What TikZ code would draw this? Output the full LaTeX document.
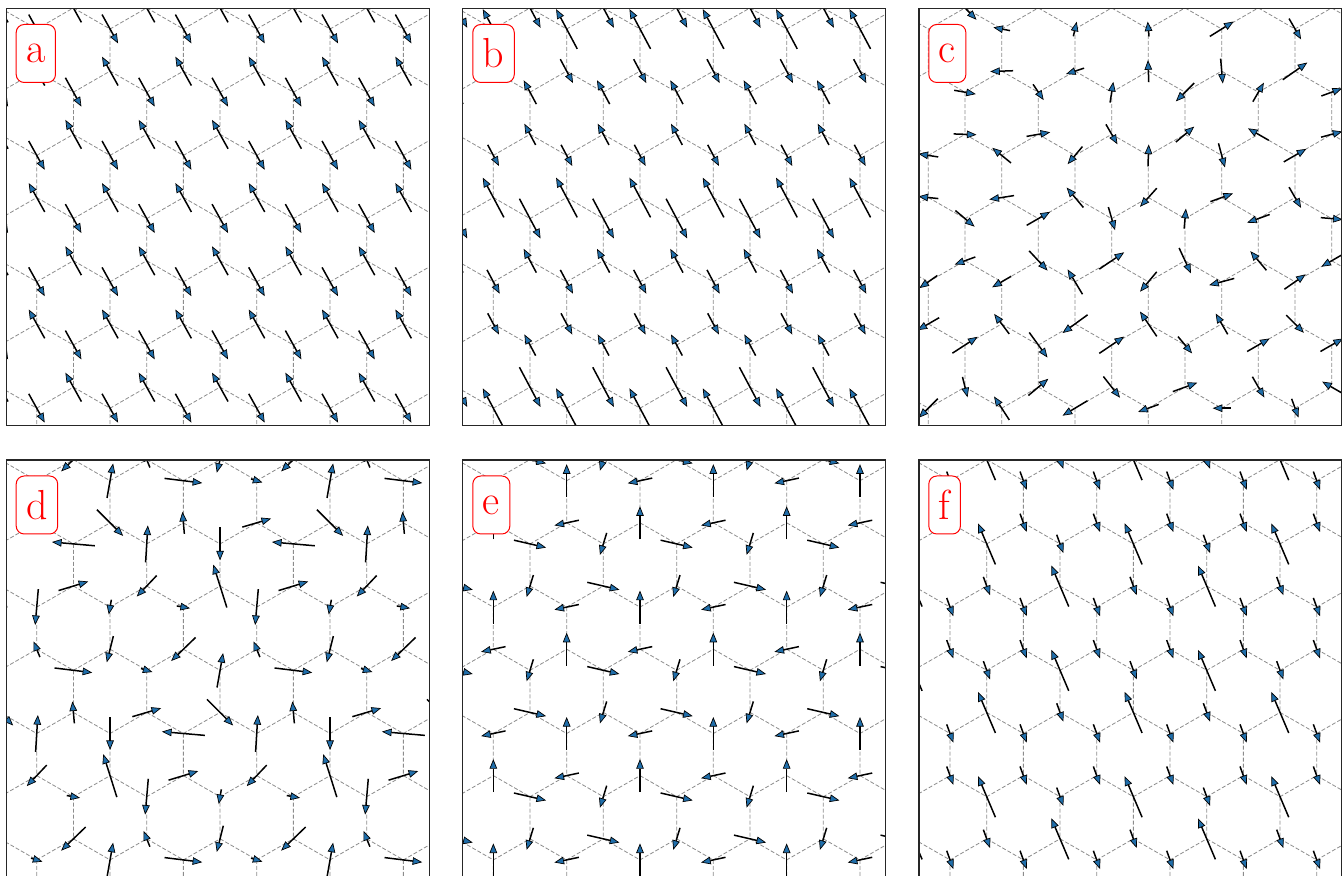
\documentclass[tikz,border=0pt]{standalone}
\usetikzlibrary{arrows.meta}
\definecolor{spinblue}{RGB}{32,110,170}
% x, y, Winkel, Laenge
\newcommand{\spinat}[4]{%
  \pgfmathsetmacro\hx{(#4)/2*cos(#3)}\pgfmathsetmacro\hy{(#4)/2*sin(#3)}%
  \draw[spin] ({#1-(\hx)},{#2+(\hy)}) -- ({#1+(\hx)},{#2-(\hy)});}
\begin{document}
\begin{tikzpicture}[x=0.5pt,y=-0.5pt,
    bond/.style={gray!90,line width=0.4pt,dash pattern=on 2pt off 1pt},
    spin/.style={black,line width=0.75pt,-{Triangle[length=4.8pt,width=3.8pt,fill=spinblue,line width=0.35pt]}},
    frame/.style={draw=black!85,line width=0.6pt},
    tag/.style={draw=red,text=red,fill=white,line width=0.5pt,rounded corners=4pt,
      anchor=north west,minimum height=29pt,inner xsep=5pt,inner ysep=0pt,
      font=\fontsize{21}{25}\selectfont}]
\useasboundingbox (0,0) rectangle (1343,876);

% Wabengitter in allen sechs Feldern
\foreach \fl/\ft/\xa/\ya in {6.7/8.3/-36.6/29,462.7/8.3/420/29,919/8.3/855/29,
    6.7/460/-36.6/480.7,462.7/460/420/480.7,919/460/876.7/480.7}{
  \begin{scope}
    \clip (\fl,\ft) rectangle ++(422.6,417.4);
    \foreach \row in {-1,...,7} \foreach \k in {0,...,7}{
      \pgfmathsetmacro\x{\xa+36.67*mod(\row+2,2)+73.33*\k}
      \pgfmathsetmacro\y{\ya+63.2*\row}
      \draw[bond] (\x-36.67,\y-21.07) -- (\x,\y) -- (\x+36.67,\y-21.07) (\x,\y) -- (\x,\y+42.13);
    }
  \end{scope}
}

% a: Neel
\begin{scope}
  \clip (6.7,8.3) rectangle ++(422.6,417.4);
  \foreach \row in {-1,...,7} \foreach \k in {0,...,7}{
    \pgfmathsetmacro\x{-36.6+36.67*mod(\row+2,2)+73.33*\k}
    \pgfmathsetmacro\y{29+63.2*\row}
    \spinat{\x}{\y}{-61}{33}
    \spinat{\x}{\y+42.13}{119}{33}
  }
\end{scope}

% b: Modulation entlang y
\begin{scope}
  \clip (462.7,8.3) rectangle ++(422.6,417.4);
  \foreach \row in {-1,...,7} \foreach \k in {0,...,7}{
    \pgfmathsetmacro\x{420+36.67*mod(\row+2,2)+73.33*\k}
    \pgfmathsetmacro\y{29+63.2*\row}
    \pgfmathtruncatemacro\ia{mod(\row+6,6)}
    \pgfmathtruncatemacro\ib{mod(\row+7,6)}
    \pgfmathsetmacro\sa{{45,27,-24,-45,-27,24}[\ia]}
    \pgfmathsetmacro\sb{{45,27,-24,-45,-27,24}[\ib]}
    \spinat{\x}{\y}{-62}{-(\sa)}
    \spinat{\x}{\y+42.13}{-62}{\sb}
  }
\end{scope}

% c: ungeordnet
\begin{scope}
  \clip (919,8.3) rectangle ++(422.6,417.4);
  \foreach \col/\row/\s/\ang/\len in {4/0/0/169/17,6/0/0/77/15,8/0/0/95/15,10/0/0/32/28,12/0/0/-60/24,
      4/0/1/182/23,6/0/1/198/19,8/0/1/92/22,10/0/1/-85/25,12/0/1/35/30,
      3/-1/1/-46/33,3/1/0/-10/22,5/1/0/-56/19,7/1/0/81/21,9/1/0/225/26,11/1/0/60/22,13/1/0/20/22,
      3/1/1/-2/23,5/1/1/10/24,7/1/1/-60/23,9/1/1/40/24,11/1/1/150/24,13/1/1/15/22,
      2/2/0/171/20,4/2/0/141/24,6/2/0/230/23,8/2/0/88/22,10/2/0/-75/25,12/2/0/30/26,
      2/2/1/174/20,4/2/1/189/25,6/2/1/130/26,8/2/1/228/25,10/2/1/20/24,12/2/1/-60/24,
      3/3/0/-40/25,5/3/0/30/27,7/3/0/-74/24,9/3/0/85/20,11/3/0/200/24,13/3/0/-5/22,
      3/3/1/200/22,5/3/1/-47/27,7/3/1/34/30,9/3/1/-65/28,11/3/1/130/25,13/3/1/210/24,
      2/4/0/215/22,4/4/0/210/22,6/4/0/121/29,8/4/0/230/26,10/4/0/195/26,12/4/0/35/26,
      2/4/1/210/25,4/4/1/127/25,6/4/1/216/31,8/4/1/124/30,10/4/1/120/24,12/4/1/-45/25,
      3/5/0/33/30,5/5/0/-54/31,7/5/0/34/30,9/5/0/-50/22,11/5/0/30/26,13/5/0/30/26,
      3/5/1/-76/21,5/5/1/40/26,7/5/1/-52/27,9/5/1/20/26,11/5/1/-60/24,13/5/1/150/22,
      2/6/0/225/27,4/6/0/123/28,6/6/0/211/29,8/6/0/200/22,10/6/0/180/18,12/6/0/-70/20}{
    \spinat{855+36.67*\col}{29+63.2*\row+42.13*\s}{\ang}{\len}
  }
\end{scope}

% d: 3x3-Ueberstruktur
\begin{scope}
  \clip (6.7,460) rectangle ++(422.6,417.4);
  \foreach \row in {-1,...,7} \foreach \k in {0,...,7}{
    \pgfmathsetmacro\x{-36.6+36.67*mod(\row+2,2)+73.33*\k}
    \pgfmathsetmacro\y{480.7+63.2*\row}
    \pgfmathtruncatemacro\nn{floor((\row+6)/3)-2}
    \pgfmathtruncatemacro\cm{mod(2*\k-1+mod(\row+2,2)-3*\nn+60,6)}
    \pgfmathtruncatemacro\ix{3*(\row-3*\nn)+floor(\cm/2)}
    \pgfmathsetmacro\angA{{-17,80,-7,-90,175,86.5,-95,-100,-10}[\ix]}
    \pgfmathsetmacro\lenA{{12,35,38,33,43,37,36,15,13.5}[\ix]}
    \pgfmathsetmacro\angB{{16.5,-45,95,107.5,17,226.5,112,-104,224}[\ix]}
    \pgfmathsetmacro\lenB{{30,37,22,45,31,29,17,27,34}[\ix]}
    \spinat{\x}{\y}{\angA}{\lenA}
    \spinat{\x}{\y+42.13}{\angB}{\lenB}
  }
\end{scope}

% e: drei Richtungen
\begin{scope}
  \clip (462.7,460) rectangle ++(422.6,417.4);
  \foreach \row in {-1,...,7} \foreach \k in {0,...,7} \foreach \s in {0,1}{
    \pgfmathsetmacro\x{420+36.67*mod(\row+2,2)+73.33*\k}
    \pgfmathsetmacro\y{480.7+63.2*\row+42.13*\s}
    \pgfmathtruncatemacro\tp{mod(\k+100+(mod(\row+2,2)-\row)/2+\s,2)}
    \pgfmathtruncatemacro\ix{2*mod(\row+2,2)+\tp}
    \pgfmathsetmacro\ang{{90,192,-107,-13}[\ix]}
    \pgfmathsetmacro\len{{33,25,23,33}[\ix]}
    \spinat{\x}{\y}{\ang}{\len}
  }
\end{scope}

% f: lange und kurze Spins
\begin{scope}
  \clip (919,460) rectangle ++(422.6,417.4);
  \foreach \row in {-1,...,7} \foreach \k in {0,...,7} \foreach \s in {0,1}{
    \pgfmathsetmacro\x{876.7+36.67*mod(\row+2,2)+73.33*\k}
    \pgfmathsetmacro\y{480.7+63.2*\row+42.13*\s}
    \pgfmathtruncatemacro\lg{mod(\row+2,2)*(1-mod(\k+99-(\row-1)/2+\s,2))}
    \pgfmathsetmacro\ang{{-70,113}[\lg]}
    \pgfmathsetmacro\len{{19.5,44.6}[\lg]}
    \spinat{\x}{\y}{\ang}{\len}
  }
\end{scope}

% Rahmen
\foreach \fl/\ft in {6.7/8.3,462.7/8.3,919/8.3,6.7/460,462.7/460,919/460}
  \draw[frame] (\fl,\ft) rectangle ++(422.6,417.4);

% Beschriftung
\node[tag] (la) at (15.7,24) {a};
\node[tag] (lb) at (472.3,24) {b};
\node[tag] (lc) at (928.3,24) {c};
\node[tag] (ld) at (15.7,475.5) {d};
\node[tag] (le) at (472.3,475.5) {e};
\node[tag] (lf) at (928.3,475.5) {f};
\end{tikzpicture}
\end{document}
